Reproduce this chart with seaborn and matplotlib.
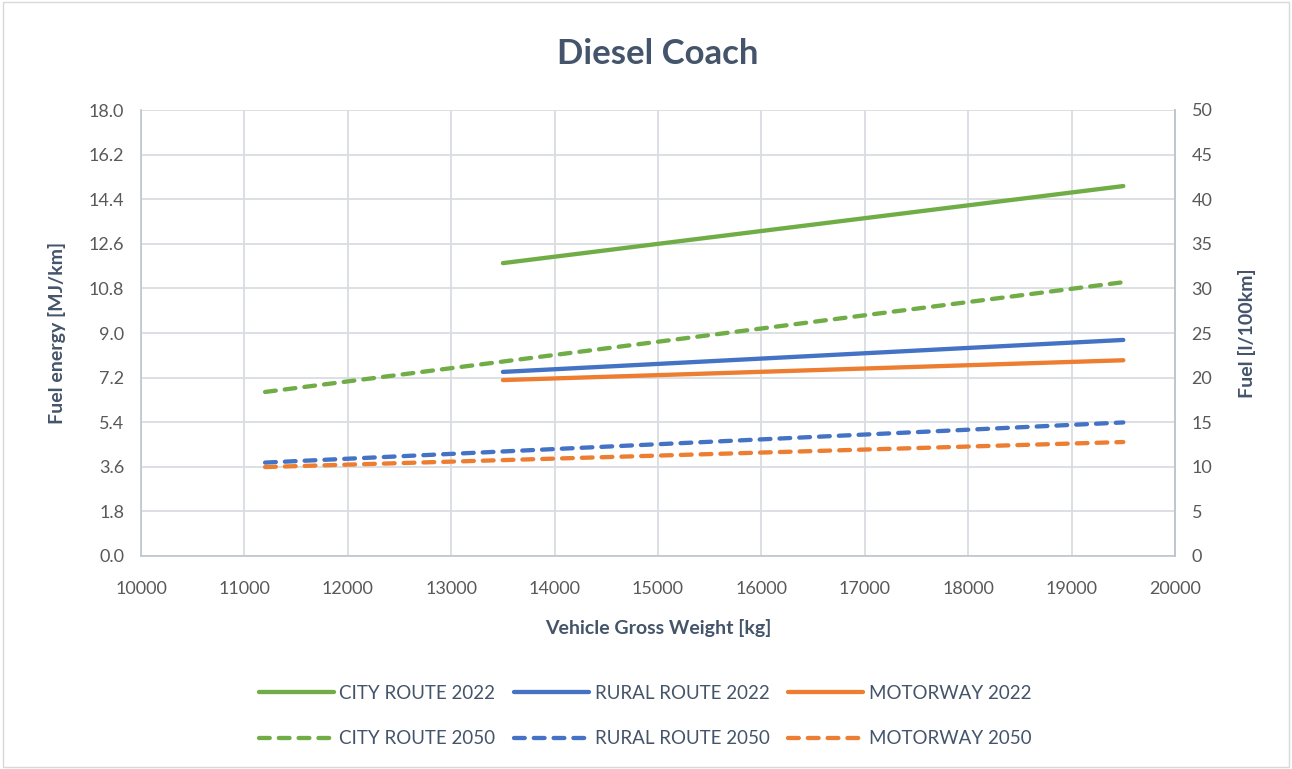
import matplotlib
matplotlib.use("Agg")
import matplotlib.pyplot as plt
import seaborn as sns
import pandas as pd

# Data
weights_2022 = [13500, 19500]
weights_2050 = [11200, 19500]
city_2022 = [11.82, 14.93]
rural_2022 = [7.43, 8.72]
motorway_2022 = [7.10, 7.90]
city_2050 = [6.62, 11.05]
rural_2050 = [3.77, 5.39]
motorway_2050 = [3.59, 4.60]

series_names = ["CITY ROUTE 2022", "CITY ROUTE 2050", "RURAL ROUTE 2022",
                "RURAL ROUTE 2050", "MOTORWAY 2022", "MOTORWAY 2050"]
left_ticks = [0.0, 1.8, 3.6, 5.4, 7.2, 9.0, 10.8, 12.6, 14.4, 16.2, 18.0]
right_ticks = [0, 5, 10, 15, 20, 25, 30, 35, 40, 45, 50]
x_ticks = [10000, 11000, 12000, 13000, 14000, 15000, 16000, 17000, 18000, 19000, 20000]

sns.set_theme(style="white")
plt.rcParams['font.family'] = ['Lato', 'DejaVu Sans']

GREEN, BLUE, ORANGE = "#70AD47", "#4472C4", "#ED7D31"
TXT = "#44546A"
TICK = "#595959"
GRID = "#D9DDE3"

series = [
    ("CITY ROUTE 2022", weights_2022, city_2022, GREEN, "-"),
    ("CITY ROUTE 2050", weights_2050, city_2050, GREEN, "--"),
    ("RURAL ROUTE 2022", weights_2022, rural_2022, BLUE, "-"),
    ("RURAL ROUTE 2050", weights_2050, rural_2050, BLUE, "--"),
    ("MOTORWAY 2022", weights_2022, motorway_2022, ORANGE, "-"),
    ("MOTORWAY 2050", weights_2050, motorway_2050, ORANGE, "--"),
]

fig = plt.figure(figsize=(12.92, 7.69), dpi=100)
ax = fig.add_axes([141/1292, 1 - 556/769, (1175-141)/1292, (556-110)/769])

handles = []
for name, xs, ys, col, ls in series:
    df = pd.DataFrame({"x": xs, "y": ys})
    sns.lineplot(data=df, x="x", y="y", ax=ax, color=col, linewidth=3.1, legend=False)
    ln = ax.get_lines()[-1]
    ln.set_solid_capstyle("round")
    if ls == "--":
        ln.set_linestyle((0, (2.5, 2.1)))
        ln.set_dash_capstyle("round")
    handles.append(ln)
if ax.get_legend() is not None:
    ax.get_legend().remove()

ax.set_xlim(10000, 20000)
ax.set_ylim(0, 18)
ax.set_xticks(x_ticks)
ax.set_yticks(left_ticks)
ax.set_yticklabels([f"{v:.1f}" for v in left_ticks])
ax.grid(True, color=GRID, linewidth=1.3)
ax.set_axisbelow(True)
ax.spines["top"].set_visible(False)
for s in ["left", "right", "bottom"]:
    ax.spines[s].set_color("#BFC5CE")
    ax.spines[s].set_linewidth(1.2)
ax.tick_params(axis="x", labelsize=13, colors=TICK, length=0, pad=18)
ax.tick_params(axis="y", labelsize=13, colors=TICK, length=0, pad=12)
ax.set_xlabel("Vehicle Gross Weight [kg]", fontsize=14, fontweight="bold", color=TXT, labelpad=16)
ax.set_ylabel("Fuel energy [MJ/km]", fontsize=14, fontweight="bold", color=TXT, labelpad=16)

ax2 = ax.twinx()
ax2.set_ylim(0, 50)
ax2.set_yticks(right_ticks)
ax2.tick_params(axis="y", labelsize=13, colors=TICK, length=0, pad=12)
for s in ["top", "left", "bottom"]:
    ax2.spines[s].set_visible(False)
ax2.spines["right"].set_color("#BFC5CE")
ax2.spines["right"].set_linewidth(1.2)
ax2.set_ylabel("Fuel [l/100km]", fontsize=14, fontweight="bold", color=TXT, labelpad=18)
ax2.grid(False)

fig.text((141+1175)/2/1292, 1 - 54/769, "Diesel Coach", ha="center", va="center",
         fontsize=25, fontweight="bold", color=TXT)

leg = fig.legend(handles=handles, labels=series_names, ncol=3, loc="center",
                 bbox_to_anchor=(645/1292, 1 - 716/769), frameon=False,
                 fontsize=13.5, handlelength=4.0, columnspacing=1.0, handletextpad=0.3,
                 labelspacing=1.5)
for t in leg.get_texts():
    t.set_color(TXT)

fig.patches.append(plt.Rectangle((0.002, 0.002), 0.996, 0.996, transform=fig.transFigure,
                                 fill=False, edgecolor="#D9D9D9", linewidth=1))

fig.savefig("out.png", dpi=100)
